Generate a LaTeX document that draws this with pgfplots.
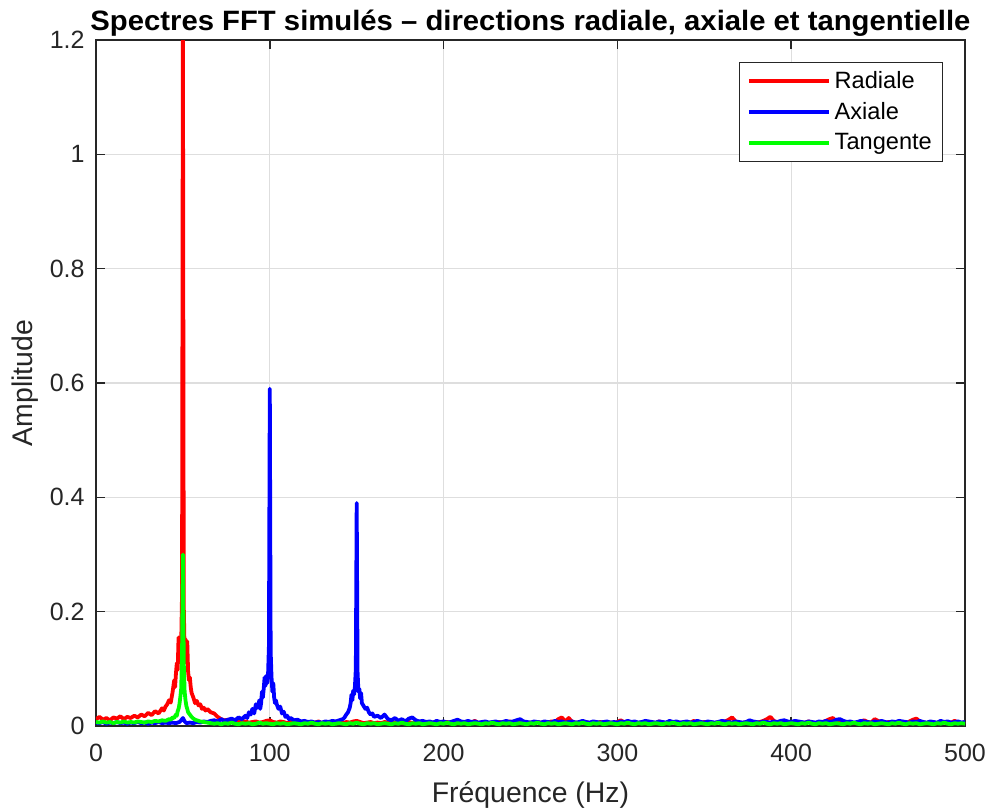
\documentclass[border=0pt]{standalone}
\usepackage{fontspec}
\setmainfont{Liberation Sans}
\usepackage{graphicx}
\usepackage{pgfplots}
\pgfplotsset{compat=1.18}
\definecolor{axgray}{rgb}{0.15,0.15,0.15}
\definecolor{gridgray}{rgb}{0.87,0.87,0.87}
\begin{document}
\begin{tikzpicture}
\path[use as bounding box] (-48pt,-42pt) rectangle (446.5pt,363pt);
\begin{axis}[
  at={(0pt,0pt)}, anchor=south west,
  scale only axis, width=434.5pt, height=343pt,
  xmin=0, xmax=500, ymin=0, ymax=1.2,
  xtick={0,100,...,500}, ytick={0,0.2,...,1.2},
  /pgf/number format/assume math mode=true,
  tick align=inside, major tick length=4.6pt,
  axis line style={draw=axgray, line width=0.8pt},
  every tick/.style={draw=axgray, line width=0.8pt},
  grid=major, major grid style={draw=gridgray, line width=0.7pt},
  ticklabel style={font=\fontsize{12.5}{14}\selectfont, text=axgray},
  yticklabel style={xshift=-2.2pt},
  xticklabel style={yshift=-5.3pt},
  label style={font=\fontsize{14.2}{16}\selectfont, text=axgray},
  xlabel={Fréquence (Hz)},
  ylabel={Amplitude},
  xlabel style={at={(axis description cs:0.5,-0.1006)}, anchor=center},
  ylabel style={at={(axis description cs:-0.0817,0.5)}, anchor=center},
  title={\resizebox{440pt}{\height}{\bfseries Spectres FFT simulés – directions radiale, axiale et tangentielle}},
  every axis title/.style={at={(axis description cs:0.5,1)}, anchor=base, yshift=5pt, font=\fontsize{14}{16}\selectfont},
  legend style={at={(axis description cs:1,1)}, anchor=north east, xshift=-10.85pt, yshift=-10.85pt,
    draw=axgray, line width=0.5pt, fill=white, font=\fontsize{11.8}{13}\selectfont,
    inner xsep=3.5pt, inner ysep=2.5pt, row sep=1.5pt},
  legend cell align=left,
  legend image code/.code={\draw[#1, line width=1.9pt] (0pt,0pt) -- (40pt,0pt);},
  every axis plot/.append style={line width=1.9pt, line join=round},
]
\addplot[color=red, mark=none] coordinates {
(0,0.012)(2,0.016)(4,0.011)(6,0.014)(8,0.010)(10,0.015)(12,0.013)(14,0.017)(16,0.012)(18,0.016)(20,0.014)(22,0.018)(24,0.015)(26,0.020)(28,0.017)(30,0.023)(32,0.019)(34,0.026)(36,0.022)(38,0.031)(39,0.027)(40,0.034)(41,0.038)(42,0.045)(43,0.041)(44,0.058)(45,0.080)(45.5,0.068)(46,0.092)(46.5,0.110)(47,0.098)(47.5,0.155)(48,0.120)(48.5,0.150)(49,0.140)(49.5,0.23)(50,1.25)(50.5,0.21)(51,0.130)(51.5,0.152)(52,0.110)(52.5,0.148)(53,0.095)(53.5,0.080)(54,0.085)(54.5,0.068)(55,0.058)(56,0.050)(57,0.040)(58,0.044)(59,0.036)(60,0.038)(61,0.030)(62,0.032)(63,0.027)(64,0.030)(66,0.024)(68,0.022)(70,0.016)(72,0.012)(74,0.010)(76,0.011)(78,0.009)(80,0.008)
(82,0.009)(84,0.007)(86,0.008)(88,0.006)(90,0.007)(92,0.008)(94,0.006)(96,0.007)(98,0.009)(100,0.010)(102,0.007)(104,0.006)(106,0.008)(108,0.007)(110,0.005)(112,0.007)(114,0.006)(116,0.008)(118,0.005)(120,0.006)(122,0.007)(124,0.005)(126,0.006)(128,0.008)(130,0.005)(132,0.006)(134,0.007)(136,0.005)(138,0.006)(140,0.006)(142,0.005)(144,0.007)(146,0.006)(148,0.008)(150,0.009)(152,0.007)(154,0.005)(156,0.006)(158,0.007)(160,0.005)(162,0.006)(164,0.005)(166,0.007)(168,0.006)(170,0.005)(172,0.006)(174,0.008)(176,0.005)(178,0.006)(180,0.007)(182,0.005)(184,0.006)(186,0.005)(188,0.007)(190,0.006)(192,0.005)(194,0.006)(196,0.008)(198,0.005)(200,0.006)(202,0.007)(204,0.005)(206,0.006)(208,0.005)(210,0.007)(212,0.006)(214,0.005)(216,0.006)(218,0.009)(220,0.005)(222,0.006)(224,0.007)(226,0.005)(228,0.006)(230,0.005)(232,0.007)(234,0.006)(236,0.005)(238,0.008)(240,0.006)(242,0.005)(244,0.006)(246,0.007)(248,0.005)(250,0.006)(252,0.005)(254,0.007)(256,0.006)(258,0.005)(260,0.006)(262,0.008)(264,0.007)(266,0.012)(268,0.015)(270,0.008)(272,0.014)(274,0.007)(276,0.006)(278,0.005)(280,0.006)(282,0.007)(284,0.005)(286,0.006)(288,0.005)(290,0.007)(292,0.006)(294,0.005)(296,0.006)(298,0.005)(300,0.007)(302,0.010)(304,0.006)(306,0.005)(308,0.006)(310,0.007)(312,0.005)(314,0.006)(316,0.005)(318,0.007)(320,0.006)(322,0.005)(324,0.008)(326,0.006)(328,0.005)(330,0.006)(332,0.007)(334,0.005)(336,0.006)(338,0.005)(340,0.007)(342,0.006)(344,0.009)(346,0.005)(348,0.006)(350,0.007)(352,0.005)(354,0.006)(356,0.005)(358,0.007)(360,0.006)(362,0.008)(364,0.011)(366,0.015)(368,0.008)(370,0.006)(372,0.005)(374,0.007)(376,0.006)(378,0.005)(380,0.006)(382,0.007)(384,0.009)(386,0.012)(388,0.016)(390,0.009)(392,0.006)(394,0.005)(396,0.007)(398,0.006)(400,0.005)(402,0.006)(404,0.007)(406,0.005)(408,0.006)(410,0.008)(412,0.006)(414,0.005)(416,0.006)(418,0.007)(420,0.009)(422,0.012)(424,0.014)(426,0.008)(428,0.006)(430,0.005)(432,0.007)(434,0.006)(436,0.005)(438,0.006)(440,0.008)(442,0.010)(444,0.007)(446,0.006)(448,0.012)(450,0.009)(452,0.006)(454,0.005)(456,0.007)(458,0.006)(460,0.005)(462,0.006)(464,0.007)(466,0.005)(468,0.008)(470,0.011)(472,0.013)(474,0.008)(476,0.006)(478,0.005)(480,0.007)(482,0.006)(484,0.005)(486,0.006)(488,0.007)(490,0.005)(492,0.006)(494,0.009)(496,0.006)(498,0.005)(500,0.007)
};
\addlegendentry{Radiale}
\addplot[color=blue, mark=none] coordinates {
(0,0.006)(2,0.005)(4,0.007)(6,0.004)(8,0.006)(10,0.005)(12,0.007)(14,0.005)(16,0.006)(18,0.004)(20,0.006)(22,0.005)(24,0.007)(26,0.005)(28,0.006)(30,0.004)(32,0.006)(34,0.005)(36,0.007)(38,0.005)(40,0.006)(42,0.005)(44,0.006)(46,0.005)(48,0.007)(49,0.010)(50,0.014)(51,0.008)(52,0.005)(54,0.006)(56,0.005)(58,0.007)(60,0.006)(62,0.008)(64,0.007)(66,0.009)(68,0.010)(70,0.008)(72,0.012)(74,0.009)(76,0.011)(78,0.013)(80,0.010)(82,0.015)(84,0.012)(86,0.018)(87,0.014)(88,0.024)(89,0.020)(90,0.030)(91,0.022)(92,0.038)(93,0.032)(94,0.045)(94.5,0.030)(95,0.040)(95.5,0.060)(96,0.050)(96.5,0.065)(97,0.085)(97.5,0.070)(98,0.088)(98.5,0.075)(99,0.090)(99.5,0.14)(100,0.59)(100.5,0.13)(101,0.085)(101.5,0.060)(102,0.075)(102.5,0.050)(103,0.040)(103.5,0.045)(104,0.038)(105,0.030)(106,0.034)(107,0.022)(108,0.025)(109,0.016)(110,0.018)(111,0.012)(112,0.014)(114,0.010)(116,0.011)(118,0.008)(120,0.009)(122,0.007)(124,0.008)(126,0.006)(128,0.007)(130,0.006)(132,0.008)(134,0.007)(136,0.009)(138,0.008)(140,0.010)(142,0.012)(143,0.015)(144,0.020)(145,0.024)(146,0.032)(146.5,0.040)(147,0.055)(147.5,0.045)(148,0.062)(148.5,0.055)(149,0.070)(149.5,0.10)(150,0.39)(150.5,0.095)(151,0.060)(151.5,0.065)(152,0.048)(152.5,0.058)(153,0.040)(154,0.035)(155,0.030)(156,0.032)(157,0.024)(158,0.020)(159,0.022)(160,0.016)(162,0.018)(164,0.014)(166,0.020)(168,0.012)(170,0.010)(172,0.014)(174,0.009)(176,0.012)(178,0.008)(180,0.013)(182,0.015)(184,0.010)(186,0.008)(188,0.009)
(190,0.007)(192,0.008)(194,0.006)(196,0.009)(198,0.007)(200,0.008)(202,0.006)(204,0.007)(206,0.009)(208,0.011)(210,0.008)(212,0.007)(214,0.009)(216,0.007)(218,0.008)(220,0.006)(222,0.007)(224,0.008)(226,0.006)(228,0.007)(230,0.008)(232,0.006)(234,0.007)(236,0.009)(238,0.007)(240,0.008)(242,0.010)(244,0.012)(246,0.008)(248,0.007)(250,0.006)(252,0.008)(254,0.007)(256,0.006)(258,0.008)(260,0.007)(262,0.006)(264,0.009)(266,0.007)(268,0.008)(270,0.006)(272,0.007)(274,0.008)(276,0.006)(278,0.007)(280,0.009)(282,0.007)(284,0.006)(286,0.008)(288,0.007)(290,0.006)(292,0.007)(294,0.008)(296,0.006)(298,0.007)(300,0.006)(302,0.008)(304,0.007)(306,0.009)(308,0.007)(310,0.008)(312,0.006)(314,0.007)(316,0.009)(318,0.008)(320,0.007)(322,0.006)(324,0.008)(326,0.007)(328,0.006)(330,0.009)(332,0.007)(334,0.008)(336,0.006)(338,0.007)(340,0.008)(342,0.006)(344,0.007)(346,0.009)(348,0.007)(350,0.006)(352,0.008)(354,0.007)(356,0.006)(358,0.007)(360,0.009)(362,0.008)(364,0.007)(366,0.006)(368,0.008)(370,0.007)(372,0.006)(374,0.007)(376,0.010)(378,0.008)(380,0.007)(382,0.006)(384,0.008)(386,0.007)(388,0.006)(390,0.008)(392,0.007)(394,0.009)(396,0.010)(398,0.008)(400,0.007)(402,0.009)(404,0.008)(406,0.007)(408,0.006)(410,0.008)(412,0.007)(414,0.006)(416,0.008)(418,0.007)(420,0.009)(422,0.007)(424,0.008)(426,0.011)(428,0.012)(430,0.009)(432,0.007)(434,0.008)(436,0.006)(438,0.007)(440,0.009)(442,0.008)(444,0.007)(446,0.006)(448,0.008)(450,0.007)(452,0.009)(454,0.007)(456,0.006)(458,0.008)(460,0.007)(462,0.009)(464,0.008)(466,0.007)(468,0.006)(470,0.008)(472,0.007)(474,0.009)(476,0.007)(478,0.006)(480,0.008)(482,0.007)(484,0.006)(486,0.009)(488,0.007)(490,0.008)(492,0.006)(494,0.007)(496,0.008)(498,0.006)(500,0.007)
};
\addlegendentry{Axiale}
\addplot[color=green, mark=none] coordinates {
(0,0.007)(2,0.006)(4,0.008)(6,0.006)(8,0.007)(10,0.005)(12,0.007)(14,0.006)(16,0.008)(18,0.006)(20,0.007)(22,0.006)(24,0.008)(26,0.007)(28,0.006)(30,0.008)(32,0.007)(34,0.009)(36,0.008)(38,0.010)(40,0.009)(42,0.012)(43,0.011)(44,0.015)(45,0.014)(46,0.020)(46.5,0.018)(47,0.026)(47.5,0.030)(48,0.038)(48.5,0.050)(49,0.065)(49.5,0.12)(50,0.30)(50.5,0.11)(51,0.060)(51.5,0.045)(52,0.035)(52.5,0.030)(53,0.024)(54,0.020)(55,0.016)(56,0.013)(57,0.011)(58,0.010)(60,0.008)(62,0.007)(64,0.006)
(66,0.005)(68,0.004)(70,0.005)(72,0.003)(74,0.005)(76,0.004)(78,0.006)(80,0.004)(82,0.003)(84,0.005)(86,0.004)(88,0.005)(90,0.003)(92,0.004)(94,0.006)(96,0.004)(98,0.005)(100,0.004)(102,0.003)(104,0.005)(106,0.004)(108,0.005)(110,0.003)(112,0.004)(114,0.005)(116,0.004)(118,0.003)(120,0.005)(122,0.004)(124,0.006)(126,0.004)(128,0.003)(130,0.005)(132,0.004)(134,0.005)(136,0.003)(138,0.004)(140,0.005)(142,0.004)(144,0.003)(146,0.005)(148,0.004)(150,0.006)(152,0.004)(154,0.003)(156,0.005)(158,0.004)(160,0.005)(162,0.003)(164,0.004)(166,0.005)(168,0.004)(170,0.003)(172,0.005)(174,0.004)(176,0.006)(178,0.004)(180,0.003)(182,0.005)(184,0.004)(186,0.005)(188,0.003)(190,0.004)(192,0.005)(194,0.004)(196,0.003)(198,0.005)(200,0.004)(202,0.006)(204,0.004)(206,0.003)(208,0.005)(210,0.004)(212,0.005)(214,0.003)(216,0.004)(218,0.005)(220,0.004)(222,0.003)(224,0.005)(226,0.004)(228,0.006)(230,0.004)(232,0.003)(234,0.005)(236,0.004)(238,0.005)(240,0.003)(242,0.004)(244,0.005)(246,0.004)(248,0.003)(250,0.005)(252,0.004)(254,0.006)(256,0.004)(258,0.003)(260,0.005)(262,0.004)(264,0.005)(266,0.003)(268,0.004)(270,0.005)(272,0.004)(274,0.003)(276,0.005)(278,0.004)(280,0.006)(282,0.004)(284,0.003)(286,0.005)(288,0.004)(290,0.005)(292,0.003)(294,0.004)(296,0.005)(298,0.004)(300,0.003)(302,0.005)(304,0.004)(306,0.006)(308,0.004)(310,0.003)(312,0.005)(314,0.004)(316,0.005)(318,0.003)(320,0.004)(322,0.005)(324,0.004)(326,0.003)(328,0.005)(330,0.004)(332,0.006)(334,0.004)(336,0.003)(338,0.005)(340,0.004)(342,0.005)(344,0.003)(346,0.004)(348,0.005)(350,0.004)(352,0.003)(354,0.005)(356,0.004)(358,0.006)(360,0.004)(362,0.003)(364,0.005)(366,0.004)(368,0.005)(370,0.003)(372,0.004)(374,0.005)(376,0.004)(378,0.003)(380,0.005)(382,0.004)(384,0.006)(386,0.004)(388,0.003)(390,0.005)(392,0.004)(394,0.005)(396,0.003)(398,0.004)(400,0.005)(402,0.004)(404,0.003)(406,0.005)(408,0.004)(410,0.006)(412,0.004)(414,0.003)(416,0.005)(418,0.004)(420,0.005)(422,0.003)(424,0.004)(426,0.005)(428,0.004)(430,0.003)(432,0.005)(434,0.004)(436,0.006)(438,0.004)(440,0.003)(442,0.005)(444,0.004)(446,0.005)(448,0.003)(450,0.004)(452,0.005)(454,0.004)(456,0.003)(458,0.005)(460,0.004)(462,0.006)(464,0.004)(466,0.003)(468,0.005)(470,0.004)(472,0.005)(474,0.003)(476,0.004)(478,0.005)(480,0.004)(482,0.003)(484,0.005)(486,0.004)(488,0.006)(490,0.004)(492,0.003)(494,0.005)(496,0.004)(498,0.005)(500,0.004)
};
\addlegendentry{Tangente}
\end{axis}
\end{tikzpicture}
\end{document}
